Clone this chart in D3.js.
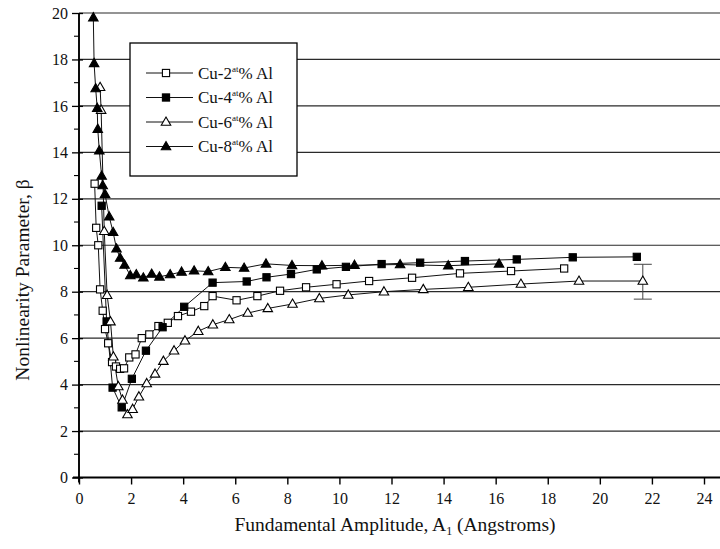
<!DOCTYPE html>
<html><head><meta charset="utf-8">
<script src="https://cdn.jsdelivr.net/npm/d3@7"></script>
<style>body{margin:0;background:#fff}svg{display:block}text{font-family:"Liberation Serif","DejaVu Serif",serif;fill:#111}</style>
</head><body><svg id="c" width="720" height="549"></svg>
<script>
const xTicks=[0,2,4,6,8,10,12,14,16,18,20,22,24];
const yTicks=[0,2,4,6,8,10,12,14,16,18,20];
const seriesNames=["Cu-2","Cu-4","Cu-6","Cu-8"];
const cu2X=[0.6,0.66,0.74,0.81,0.91,1.0,1.12,1.27,1.42,1.58,1.73,1.93,2.17,2.41,2.7,3.05,3.41,3.8,4.3,4.81,5.13,6.05,6.85,7.72,8.72,9.89,11.14,12.79,14.63,16.59,18.63];
const cu2Y=[12.65,10.75,10.0,8.1,7.18,6.39,5.78,4.97,4.78,4.68,4.7,5.17,5.3,6.0,6.16,6.52,6.66,6.95,7.14,7.38,7.81,7.63,7.81,8.04,8.19,8.32,8.46,8.6,8.79,8.89,9.0];
const cu4X=[0.87,1.06,1.29,1.64,2.03,2.57,3.21,4.04,5.13,6.44,7.2,8.14,9.13,10.25,11.62,13.1,14.82,16.81,18.96,21.42];
const cu4Y=[11.7,6.72,3.87,3.02,4.25,5.46,6.47,7.35,8.39,8.44,8.62,8.76,8.96,9.07,9.19,9.25,9.32,9.39,9.48,9.5];
const cu6X=[0.81,0.85,0.97,1.08,1.21,1.32,1.51,1.67,1.86,2.06,2.3,2.6,2.92,3.24,3.65,4.07,4.58,5.14,5.77,6.48,7.25,8.2,9.23,10.34,11.71,13.22,14.95,16.97,19.2,21.65];
const cu6Y=[16.8,15.82,10.6,7.85,6.71,5.2,3.92,3.34,2.71,2.94,3.48,4.05,4.46,5.01,5.46,5.89,6.3,6.58,6.8,7.08,7.28,7.47,7.71,7.86,8.0,8.1,8.19,8.33,8.46,8.46];
const cu8X=[0.55,0.58,0.64,0.7,0.72,0.78,0.87,0.91,1.0,1.16,1.31,1.44,1.58,1.75,1.97,2.2,2.47,2.79,3.09,3.5,3.94,4.42,4.96,5.62,6.34,7.18,8.18,9.33,10.58,12.33,14.18,16.13];
const cu8Y=[19.8,17.83,16.75,15.9,15.0,14.07,12.98,12.57,12.2,11.23,10.56,9.85,9.45,9.15,8.7,8.74,8.6,8.76,8.64,8.74,8.85,8.9,8.87,9.05,9.02,9.2,9.13,9.12,9.14,9.17,9.12,9.2];
const errX=21.65, errLo=7.68, errHi=9.18;

const series=[
 {name:seriesNames[0],xs:cu2X,ys:cu2Y,shape:"square",fill:"#fff"},
 {name:seriesNames[1],xs:cu4X,ys:cu4Y,shape:"square",fill:"#000"},
 {name:seriesNames[2],xs:cu6X,ys:cu6Y,shape:"triangle",fill:"#fff"},
 {name:seriesNames[3],xs:cu8X,ys:cu8Y,shape:"triangle",fill:"#000"}];

const svg=d3.select("#c");
const x=d3.scaleLinear().domain([0,24]).range([79,704]);
const y=d3.scaleLinear().domain([0,20]).range([477.5,13]);
const xEnd=720;
const FONT='"Liberation Serif","DejaVu Serif",serif';

svg.append("g").selectAll("line").data(yTicks.filter(d=>d>0)).join("line")
 .attr("x1",x(0)).attr("x2",xEnd).attr("y1",d=>y(d)).attr("y2",d=>y(d))
 .attr("stroke","#2a2a2a").attr("stroke-width",1.2);

const xa=svg.append("g").attr("transform",`translate(0,${y(0)})`)
 .call(d3.axisBottom(x).tickValues(xTicks).tickSize(7).tickPadding(8).tickFormat(d3.format("d")));
xa.attr("font-family",FONT);
xa.select(".domain").remove();
xa.selectAll("line").attr("stroke","#000").attr("stroke-width",1.4);
xa.selectAll("text").attr("font-size",16).attr("fill","#111");
svg.append("line").attr("x1",x(0)-6).attr("x2",xEnd).attr("y1",y(0)).attr("y2",y(0)).attr("stroke","#000").attr("stroke-width",1.9);

const ya=svg.append("g").attr("transform",`translate(${x(0)},0)`)
 .call(d3.axisLeft(y).tickValues(yTicks).tickSize(7).tickPadding(4).tickFormat(d3.format("d")));
ya.attr("font-family",FONT);
ya.select(".domain").remove();
ya.selectAll("line").attr("stroke","#000").attr("stroke-width",1.3).attr("x2",-7).attr("x1",4);
ya.selectAll("text").attr("font-size",16).attr("fill","#111");
svg.append("g").selectAll("line").data(d3.range(1,20,2)).join("line")
 .attr("x1",x(0)-5).attr("x2",x(0)).attr("y1",d=>y(d)).attr("y2",d=>y(d)).attr("stroke","#000").attr("stroke-width",1.1);
svg.append("line").attr("x1",x(0)).attr("x2",x(0)).attr("y1",y(20)).attr("y2",y(0)+5).attr("stroke","#000").attr("stroke-width",1.9);

const eb=svg.append("g").attr("stroke","#444").attr("stroke-width",1);
eb.append("line").attr("x1",x(errX)).attr("x2",x(errX)).attr("y1",y(errLo)).attr("y2",y(errHi));
eb.append("line").attr("x1",x(errX)-9).attr("x2",x(errX)+9).attr("y1",y(errLo)).attr("y2",y(errLo));
eb.append("line").attr("x1",x(errX)-9).attr("x2",x(errX)+9).attr("y1",y(errHi)).attr("y2",y(errHi));

const line=d3.line();
function marker(g,s,cx,cy){
 if(s.shape==="square"){
  g.append("rect").attr("x",cx-3.6).attr("y",cy-3.6).attr("width",7.2).attr("height",7.2)
   .attr("fill",s.fill).attr("stroke","#000").attr("stroke-width",1.1);
 } else {
  const r=5;
  g.append("path").attr("d",`M${cx},${cy-r}L${cx+r*0.95},${cy+r*0.65}L${cx-r*0.95},${cy+r*0.65}Z`)
   .attr("fill",s.fill).attr("stroke","#000").attr("stroke-width",1.1);
 }
}
series.forEach(s=>{
 const pts=s.xs.map((v,i)=>[x(v),y(s.ys[i])]);
 svg.append("path").attr("d",line(pts)).attr("fill","none").attr("stroke","#111").attr("stroke-width",1);
});
series.forEach(s=>{
 const g=svg.append("g");
 s.xs.forEach((v,i)=>marker(g,s,x(v),y(s.ys[i])));
});

const lg=svg.append("g");
lg.append("rect").attr("x",130).attr("y",43).attr("width",167).attr("height",133)
 .attr("fill","#fff").attr("stroke","#000").attr("stroke-width",1.3);
series.forEach((s,i)=>{
 const ly=73+i*24.5;
 lg.append("line").attr("x1",146).attr("x2",193).attr("y1",ly).attr("y2",ly).attr("stroke","#111").attr("stroke-width",1);
 marker(lg,s,166,ly);
 const t=lg.append("text").attr("x",198).attr("y",ly+5.5).attr("font-size",17);
 t.append("tspan").text(s.name);
 t.append("tspan").attr("font-size",9).attr("dy",-7).text("at");
 t.append("tspan").attr("dy",7).text("% Al");
});

svg.append("text").attr("transform",`translate(29,280) rotate(-90)`).attr("text-anchor","middle")
 .attr("font-size",19.5).text("Nonlinearity Parameter, β");
const xt=svg.append("text").attr("x",395).attr("y",531).attr("text-anchor","middle").attr("font-size",19.5);
xt.append("tspan").text("Fundamental Amplitude, A");
xt.append("tspan").attr("font-size",12).attr("dy",4).text("1");
xt.append("tspan").attr("dy",-4).text(" (Angstroms)");
</script></body></html>
